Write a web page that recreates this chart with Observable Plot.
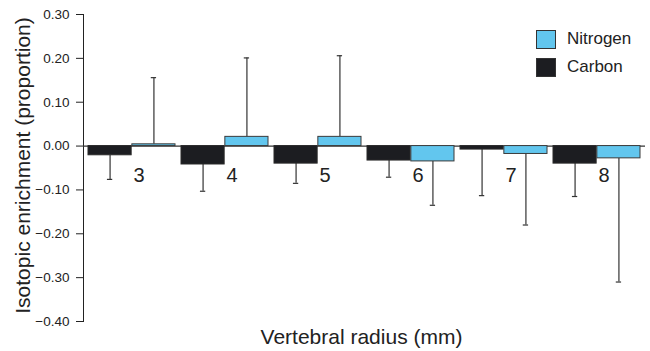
<!DOCTYPE html>
<html>
<head>
<meta charset="utf-8">
<script src="https://cdn.jsdelivr.net/npm/d3@7"></script>
<script src="https://cdn.jsdelivr.net/npm/@observablehq/plot@0.6"></script>
<style>
  html, body { margin: 0; padding: 0; background: #fff; }
  #wrap { position: relative; width: 650px; height: 351px; font-family: "Liberation Sans", Arial, Helvetica, sans-serif; }
  .legend { position: absolute; left: 536px; top: 25px; font-size: 17px; color: #222; line-height: 28px; }
  .legend .row { display: flex; align-items: center; height: 28px; }
  .legend .sw { width: 18px; height: 17px; border: 1px solid #333; margin-right: 11px; }
</style>
</head>
<body>
<div id="wrap"></div>
<script>
// ---- data ----
const radii = ["3", "4", "5", "6", "7", "8"];
const carbonMean = [-0.021, -0.042, -0.040, -0.033, -0.008, -0.040];
const carbonErr  = [0.055, 0.061, 0.045, 0.038, 0.105, 0.075];
const nitrogenMean = [0.004, 0.021, 0.021, -0.035, -0.018, -0.028];
const nitrogenErr  = [0.152, 0.180, 0.185, 0.100, 0.162, 0.282];
const yTicks = [0.30, 0.20, 0.10, 0.00, -0.10, -0.20, -0.30, -0.40];
const elements = ["Nitrogen", "Carbon"];
const colors = {Nitrogen: "#62c6ee", Carbon: "#1c1d21"};

const W = 650, H = 351;
const mL = 83, mR = 5, mT = 14, mB = 30;
const padIn = 0.063, padOut = 0.034;

const rows = [];
radii.forEach((r, i) => {
  rows.push({radius: r, element: "Carbon", value: carbonMean[i], err: carbonErr[i]});
  rows.push({radius: r, element: "Nitrogen", value: nitrogenMean[i], err: nitrogenErr[i]});
});
rows.forEach(d => { d.end = d.value + (d.value >= 0 ? d.err : -d.err); });

// same band geometry as Plot's x scale, used to split each band into two halves
const xb = d3.scaleBand(radii, [mL, W - mR]).paddingInner(padIn).paddingOuter(padOut);
const bw = xb.bandwidth();
const half = bw / 2;
const capW = 6;

const carbon = rows.filter(d => d.element === "Carbon");
const nitrogen = rows.filter(d => d.element === "Nitrogen");

const plot = Plot.plot({
  width: W, height: H,
  marginLeft: mL, marginRight: mR, marginTop: mT, marginBottom: mB,
  style: {fontFamily: '"Liberation Sans", Arial, Helvetica, sans-serif', fontSize: "13.5px", color: "#222", background: "#fff"},
  x: {type: "band", domain: radii, paddingInner: padIn, paddingOuter: padOut, axis: null},
  y: {domain: [-0.4, 0.3], ticks: yTicks, tickFormat: d3.format(".2f"), tickSize: 7, tickPadding: 7, line: true, label: null},
  marks: [
    Plot.ruleY([0], {stroke: "#333", strokeWidth: 1.2}),
    // error bars
    Plot.ruleX(carbon, {x: "radius", y1: "value", y2: "end", dx: -half / 2, stroke: "#333", strokeWidth: 1.2}),
    Plot.ruleX(nitrogen, {x: "radius", y1: "value", y2: "end", dx: half / 2, stroke: "#333", strokeWidth: 1.2}),
    Plot.tickY(carbon, {x: "radius", y: "end", dx: -half / 2, insetLeft: (bw - capW) / 2, insetRight: (bw - capW) / 2, stroke: "#333", strokeWidth: 1.2}),
    Plot.tickY(nitrogen, {x: "radius", y: "end", dx: half / 2, insetLeft: (bw - capW) / 2, insetRight: (bw - capW) / 2, stroke: "#333", strokeWidth: 1.2}),
    // bars
    Plot.barY(carbon, {x: "radius", y: "value", insetRight: half, fill: colors.Carbon, stroke: "#2a2a2a", strokeWidth: 1}),
    Plot.barY(nitrogen, {x: "radius", y: "value", insetLeft: half, fill: colors.Nitrogen, stroke: "#3a3a3a", strokeWidth: 1}),
    // group labels
    Plot.text(radii, {x: d => d, y: 0, text: d => d, dx: 7, dy: 30, fontSize: 20, fill: "#222"}),
    // axis titles
    Plot.text(["Vertebral radius (mm)"], {frameAnchor: "bottom", textAnchor: "middle", lineAnchor: "middle", text: d => d, dx: -3, dy: 16, fontSize: 21, fill: "#222"}),
    Plot.text(["Isotopic enrichment (proportion)"], {frameAnchor: "left", textAnchor: "middle", lineAnchor: "middle", text: d => d, rotate: -90, dx: -60, dy: -2.5, fontSize: 21, fill: "#222"})
  ]
});

const wrap = document.getElementById("wrap");
wrap.appendChild(plot);
const legend = document.createElement("div");
legend.className = "legend";
elements.forEach(e => {
  const row = document.createElement("div");
  row.className = "row";
  const sw = document.createElement("div");
  sw.className = "sw";
  sw.style.background = colors[e];
  const t = document.createElement("span");
  t.textContent = e;
  row.appendChild(sw);
  row.appendChild(t);
  legend.appendChild(row);
});
wrap.appendChild(legend);
</script>
</body>
</html>
